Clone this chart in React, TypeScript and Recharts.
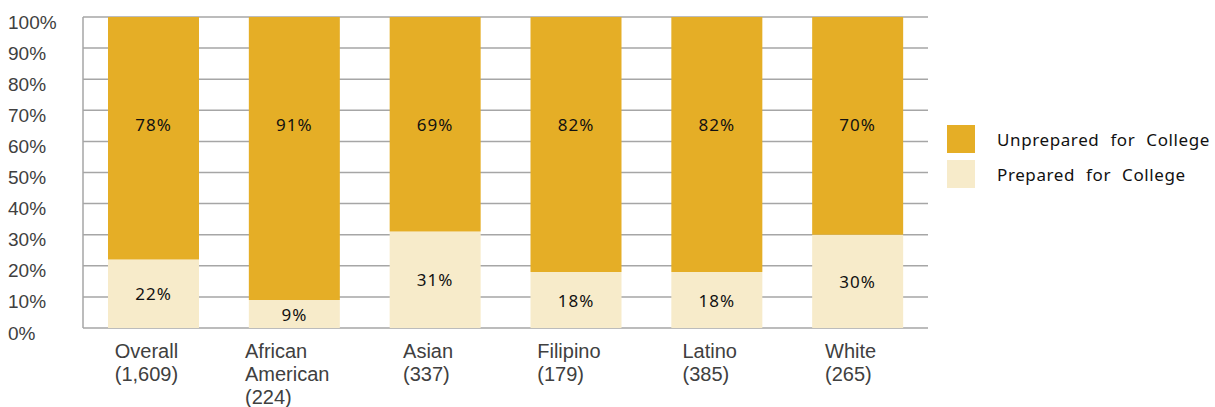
import { BarChart, Bar, XAxis, YAxis, CartesianGrid, LabelList } from 'recharts'

const groups = [
  'Overall\n(1,609)',
  'African\nAmerican\n(224)',
  'Asian\n(337)',
  'Filipino\n(179)',
  'Latino\n(385)',
  'White\n(265)',
]
const prepared = [22, 9, 31, 18, 18, 30]
const unprepared = [78, 91, 69, 82, 82, 70]
const yTicks = [0, 10, 20, 30, 40, 50, 60, 70, 80, 90, 100]
const legendItems = ['Unprepared for College', 'Prepared for College']

const GOLD = '#E5AE26'
const CREAM = '#F7EBCA'
const GRID = '#A6A6A6'
const AXIS_FONT = '"Liberation Sans", Arial, sans-serif'
const LABEL_FONT = '"Noto Sans", sans-serif'

const data = groups.map((g, i) => ({
  group: g,
  prepared: prepared[i],
  unprepared: unprepared[i],
}))

let ctx: CanvasRenderingContext2D | null = null
function textWidth(s: string, font: string) {
  if (!ctx) ctx = document.createElement('canvas').getContext('2d')
  if (!ctx) return s.length * 9
  ctx.font = font
  return ctx.measureText(s).width
}

// multi-line category label, lines left-aligned, block roughly centred under the bar
function GroupTick({ x, y, payload }: any) {
  const lines = String(payload.value).split('\n')
  const w = Math.max(...lines.map((l) => textWidth(l, `20px ${AXIS_FONT}`)))
  const left = x - w / 2 - 7
  return (
    <text x={left} y={y + 22} fill="#404040" fontSize={20} fontFamily={AXIS_FONT} textAnchor="start">
      {lines.map((l, i) => (
        <tspan key={i} x={left} dy={i === 0 ? 0 : 23}>
          {l}
        </tspan>
      ))}
    </text>
  )
}

function PctTick({ y, payload }: any) {
  return (
    <text x={8} y={y + 5} fill="#404040" fontSize={19} fontFamily={AXIS_FONT} dominantBaseline="central">
      {payload.value}%
    </text>
  )
}

function PreparedLabel({ x, y, width, height, value }: any) {
  return (
    <text
      x={x + width / 2}
      y={y + height / 2}
      textAnchor="middle"
      dominantBaseline="central"
      fontSize={17}
      letterSpacing={1}
      fontFamily={LABEL_FONT}
      fill="#111"
    >
      {value}%
    </text>
  )
}

function UnpreparedLabel({ x, y, width, value }: any) {
  return (
    <text
      x={x + width / 2}
      y={y + 107}
      textAnchor="middle"
      dominantBaseline="central"
      fontSize={17}
      letterSpacing={1}
      fontFamily={LABEL_FONT}
      fill="#111"
    >
      {value}%
    </text>
  )
}

export default function App() {
  const colors = [GOLD, CREAM]
  return (
    <div style={{ position: 'absolute', left: 0, top: 0, width: 1215, height: 407, background: '#fff' }}>
      <BarChart width={1215} height={407} data={data} margin={{ top: 17, right: 287, bottom: 0, left: 0 }}>
        <CartesianGrid vertical={false} stroke={GRID} strokeWidth={1.5} />
        <XAxis dataKey="group" axisLine={false} tickLine={false} height={79} tick={<GroupTick />} interval={0} />
        <YAxis
          width={83}
          domain={[0, 100]}
          ticks={yTicks}
          axisLine={{ stroke: GRID, strokeWidth: 1.5 }}
          tickLine={false}
          tick={<PctTick />}
        />
        <Bar dataKey="prepared" name="Prepared for College" stackId="a" fill={CREAM} barSize={91} isAnimationActive={false}>
          <LabelList dataKey="prepared" content={<PreparedLabel />} />
        </Bar>
        <Bar dataKey="unprepared" name="Unprepared for College" stackId="a" fill={GOLD} barSize={91} isAnimationActive={false}>
          <LabelList dataKey="unprepared" content={<UnpreparedLabel />} />
        </Bar>
      </BarChart>
      <div style={{ position: 'absolute', left: 947, top: 125 }}>
        {legendItems.map((name, i) => (
          <div key={name} style={{ display: 'flex', alignItems: 'center', height: 28, marginBottom: 7 }}>
            <span style={{ width: 28, height: 28, background: colors[i], display: 'inline-block' }} />
            <span
              style={{
                marginLeft: 22,
                fontFamily: LABEL_FONT,
                fontSize: 17,
                letterSpacing: 0.6,
                wordSpacing: 6,
                color: '#111',
                whiteSpace: 'nowrap',
              }}
            >
              {name}
            </span>
          </div>
        ))}
      </div>
    </div>
  )
}
